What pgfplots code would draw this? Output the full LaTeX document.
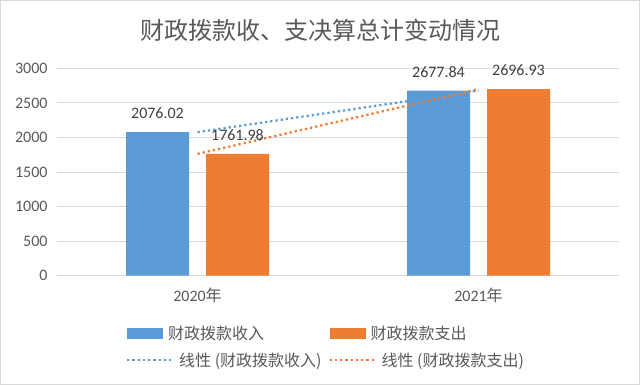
\documentclass[border=0pt]{standalone}
\usepackage{pgfplots}
\pgfplotsset{compat=1.18}
\usepackage{fontspec}
\setmainfont{Carlito}
\newfontfamily\cjk{Noto Sans CJK SC}
\definecolor{cblue}{HTML}{5B9BD5}
\definecolor{corange}{HTML}{ED7D31}
\definecolor{txt}{HTML}{595959}
\definecolor{lbl}{HTML}{404040}
\definecolor{gridc}{HTML}{D9D9D9}
\begin{document}
\begin{tikzpicture}[x=1pt,y=1pt]
\path[draw=gridc, line width=1pt] (0.5,0.5) rectangle (639.5,384.5);
\node[text=txt, font=\cjk\fontsize{24}{24}\selectfont] at (320,355) {财政拨款收、支决算总计变动情况};
\begin{axis}[
  at={(57pt,109.3pt)}, anchor=south west,
  scale only axis, width=562pt, height=207.4pt,
  xmin=-0.5, xmax=1.5, ymin=0, ymax=3000,
  ytick={0,500,...,3000},
  xtick={0,1}, xticklabels={2020{\cjk 年},2021{\cjk 年}},
  axis line style={draw=none},
  ymajorgrids, grid style={gridc, line width=0.9pt},
  major tick length=0pt,
  tick label style={text=txt, font=\fontsize{16}{16}\selectfont},
  /pgf/number format/assume math mode=true,
  /pgf/number format/1000 sep={},
  yticklabel style={xshift=-6pt},
  xticklabel style={yshift=-9pt},
  clip=false,
  legend columns=2,
  legend cell align=left,
  legend style={at={(axis description cs:0.1246,-0.240)}, anchor=north west,
    draw=none, fill=none, inner sep=0pt, row sep=12pt,
    nodes={inner sep=0pt, text=txt, font=\cjk\fontsize{16}{16}\selectfont},
    /tikz/every odd column/.append style={column sep=5pt},
    /tikz/every even column/.append style={column sep=8pt}},
  nodes near coords style={anchor=base, yshift=13.5pt, inner sep=0pt, text=lbl, font=\fontsize{16}{16}\selectfont},
]
\addplot[ybar, fill=cblue, draw=none, bar width=63pt, bar shift=-40pt,
  point meta=explicit symbolic, nodes near coords,
  every node near coord/.append style={xshift=-40pt},
  legend image code/.code={\path[fill=cblue, draw=none] (0pt,-5.5pt) rectangle (36pt,5.5pt);}]
  coordinates {(0,2076.02)[2076.02] (1,2677.84)[2677.84]};
\addlegendentry{财政拨款收入}
\addplot[ybar, fill=corange, draw=none, bar width=63pt, bar shift=40pt,
  point meta=explicit symbolic, nodes near coords,
  every node near coord/.append style={xshift=40pt},
  legend image code/.code={\path[fill=corange, draw=none] (0pt,-5.5pt) rectangle (36pt,5.5pt);}]
  coordinates {(0,1761.98)[1761.98] (1,2696.93)[2696.93]};
\addlegendentry{财政拨款支出}
\addplot[cblue, line width=2.25pt, dash pattern=on 2.25pt off 3pt, mark=none,
  legend image code/.code={\draw[overlay] (0pt,0pt) -- (44pt,0pt); \path[draw=none, fill=none] (0pt,-5.5pt) rectangle (36pt,5.5pt);}]
  coordinates {(0,2076.02) (1,2677.84)};
\addlegendentry{\hspace{11pt}线性 (财政拨款收入)}
\addplot[corange, line width=2.25pt, dash pattern=on 2.25pt off 3pt, mark=none,
  legend image code/.code={\draw[overlay] (0pt,0pt) -- (44pt,0pt); \path[draw=none, fill=none] (0pt,-5.5pt) rectangle (36pt,5.5pt);}]
  coordinates {(0,1761.98) (1,2696.93)};
\addlegendentry{\hspace{11pt}线性 (财政拨款支出)}
\end{axis}
\end{tikzpicture}
\end{document}
